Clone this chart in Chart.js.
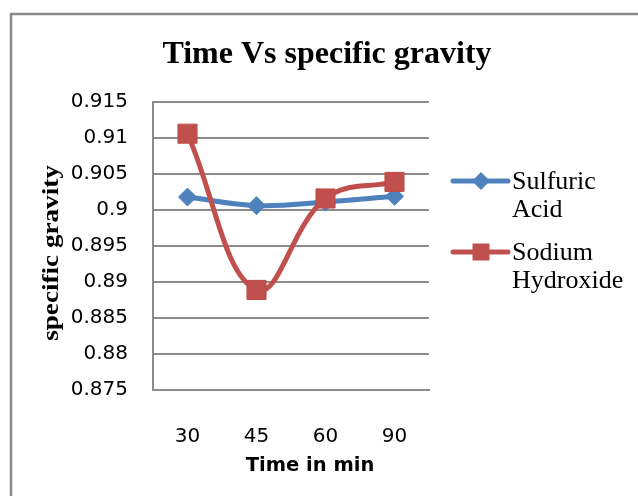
<!DOCTYPE html>
<html>
<head>
<meta charset="utf-8">
<title>Time Vs specific gravity</title>
<script src="https://cdn.jsdelivr.net/npm/chart.js@4"></script>
<style>
  html, body { margin: 0; padding: 0; background: #fff; }
  #chart { display: block; }
</style>
</head>
<body>
<canvas id="chart" width="638" height="496"></canvas>
<script>
// x categories (minutes) and the two measured series
const times = ['30', '45', '60', '90'];
const sulfuricAcid = [0.9018, 0.9006, 0.9011, 0.9019];
const sodiumHydroxide = [0.9106, 0.8889, 0.9016, 0.9039];

// legend text, wrapped the way the chart shows it
const legendLines = [['Sulfuric', 'Acid'], ['Sodium', 'Hydroxide']];

const chartTitle = 'Time Vs specific gravity';
const xTitle = 'Time in min';
const yTitle = 'specific gravity';

// y axis range
const yMin = 0.875;
const yMax = 0.915;
const yStep = 0.005;

const BLUE = '#4F81BD';
const RED = '#C0504D';
const GRID = '#8c8c8c';
const SERIF = '"Liberation Serif", "Times New Roman", serif';
const SANS = '"DejaVu Sans", sans-serif';

// outer chart frame (top and left edges only)
const framePlugin = {
    id: 'frame',
    beforeDraw(chart) {
        const ctx = chart.ctx;
        ctx.save();
        ctx.fillStyle = '#fff';
        ctx.fillRect(0, 0, chart.width, chart.height);
        ctx.strokeStyle = '#8a8a8a';
        ctx.lineWidth = 2.5;
        ctx.beginPath();
        ctx.moveTo(11, chart.height);
        ctx.lineTo(11, 14);
        ctx.lineTo(chart.width, 14);
        ctx.stroke();
        ctx.restore();
    }
};

// chart title and both axis titles
const titlesPlugin = {
    id: 'titles',
    afterDraw(chart) {
        const ctx = chart.ctx;
        const area = chart.chartArea;
        ctx.save();
        ctx.fillStyle = '#000';
        ctx.textAlign = 'center';
        ctx.textBaseline = 'middle';

        ctx.font = 'bold 32px ' + SERIF;
        ctx.fillText(chartTitle, 327, 55);

        ctx.font = 'bold 19.5px ' + SANS;
        ctx.fillText(xTitle, area.left + 157, 466);

        ctx.translate(52, 253);
        ctx.rotate(-Math.PI / 2);
        ctx.scale(1.18, 1);
        ctx.font = 'bold 23px ' + SERIF;
        ctx.fillText(yTitle, 0, 0);
        ctx.restore();
    }
};

// legend on the right with two-line labels
const sideLegend = {
    id: 'sideLegend',
    afterDraw(chart) {
        const ctx = chart.ctx;
        const x0 = chart.chartArea.right + 24;
        const rows = [181, 252];
        ctx.save();
        chart.data.datasets.forEach((ds, i) => {
            const y = rows[i];
            ctx.strokeStyle = ds.borderColor;
            ctx.lineWidth = 5;
            ctx.lineCap = 'round';
            ctx.beginPath();
            ctx.moveTo(x0, y);
            ctx.lineTo(x0 + 55, y);
            ctx.stroke();

            const cx = x0 + 28;
            ctx.fillStyle = ds.pointBackgroundColor;
            ctx.beginPath();
            if (ds.pointStyle === 'rectRot') {
                const r = 9;
                ctx.moveTo(cx - r, y);
                ctx.lineTo(cx, y - r);
                ctx.lineTo(cx + r, y);
                ctx.lineTo(cx, y + r);
                ctx.closePath();
            } else {
                ctx.rect(cx - 8.5, y - 8.5, 17, 17);
            }
            ctx.fill();

            ctx.fillStyle = '#000';
            ctx.font = '26px ' + SERIF;
            ctx.textAlign = 'left';
            ctx.textBaseline = 'alphabetic';
            legendLines[i].forEach((line, j) => {
                ctx.fillText(line, x0 + 59, y + 8 + j * 28);
            });
        });
        ctx.restore();
    }
};

new Chart(document.getElementById('chart'), {
    type: 'line',
    data: {
        labels: times,
        datasets: [
            {
                label: 'Sulfuric Acid',
                data: sulfuricAcid,
                borderColor: BLUE,
                backgroundColor: BLUE,
                pointBackgroundColor: BLUE,
                pointBorderColor: BLUE,
                pointStyle: 'rectRot',
                pointRadius: 9,
                pointBorderWidth: 1,
                borderWidth: 5,
                tension: 0.4,
                order: 1
            },
            {
                label: 'Sodium Hydroxide',
                data: sodiumHydroxide,
                borderColor: RED,
                backgroundColor: RED,
                pointBackgroundColor: RED,
                pointBorderColor: '#BE4B48',
                pointStyle: 'rect',
                pointRadius: 13.5,
                pointBorderWidth: 1,
                borderWidth: 5,
                tension: 0.4,
                order: 0
            }
        ]
    },
    options: {
        responsive: false,
        animation: false,
        devicePixelRatio: 1,
        layout: { padding: { left: 0, right: 209, top: 102, bottom: 0 } },
        plugins: {
            legend: { display: false },
            tooltip: { enabled: false },
            title: { display: false }
        },
        scales: {
            x: {
                offset: true,
                grid: { display: false, drawTicks: false },
                border: { display: true, color: GRID, width: 2 },
                ticks: {
                    color: '#000',
                    padding: 35,
                    font: { family: SANS, size: 20 }
                },
                afterFit(scale) { scale.height = 106; }
            },
            y: {
                min: yMin,
                max: yMax,
                grid: { color: GRID, lineWidth: 2, drawTicks: false },
                border: { display: true, color: GRID, width: 2 },
                ticks: {
                    stepSize: yStep,
                    color: '#000',
                    padding: 25,
                    font: { family: SANS, size: 20 },
                    callback: v => String(parseFloat(v.toFixed(3)))
                },
                afterFit(scale) { scale.width = 153; }
            }
        }
    },
    plugins: [framePlugin, titlesPlugin, sideLegend]
});
</script>
</body>
</html>
